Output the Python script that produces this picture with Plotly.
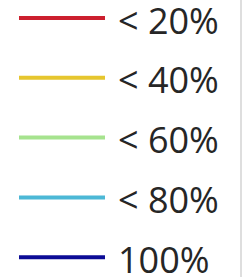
import plotly.graph_objects as go

labels = ["< 20%", "< 40%", "< 60%", "< 80%", "100%"]
colors = ["#cc1f2e", "#e6c62e", "#a6e38e", "#4cb8d6", "#0c0c96"]

W, H = 248, 277
y0, dy = 18, 59.8

fig = go.Figure()
for i, (lab, col) in enumerate(zip(labels, colors)):
    fig.add_trace(go.Scatter(
        x=[19, 105], y=[i, i], mode="lines",
        line=dict(color=col, width=4), name=lab, showlegend=False,
        hoverinfo="skip"))
    fig.add_annotation(x=116, y=i, yshift=-2, text=lab, xanchor="left", yanchor="middle",
                       showarrow=False, xref="x", yref="y",
                       font=dict(family="Open Sans", size=36, color="#262626"))

fig.add_shape(type="line", xref="paper", yref="paper", x0=241/W, x1=241/W, y0=0, y1=1,
              line=dict(color="#bdbdbd", width=1))

fig.update_layout(
    width=W, height=H, margin=dict(l=0, r=0, t=0, b=0),
    paper_bgcolor="white", plot_bgcolor="white",
    xaxis=dict(range=[0, W], visible=False, fixedrange=True),
    yaxis=dict(range=[(H - y0) / dy, -y0 / dy], visible=False, fixedrange=True),
)
fig.write_html("out.html", config={"displayModeBar": False},
               post_script="document.body.style.margin='0';document.body.style.overflow='hidden';")
